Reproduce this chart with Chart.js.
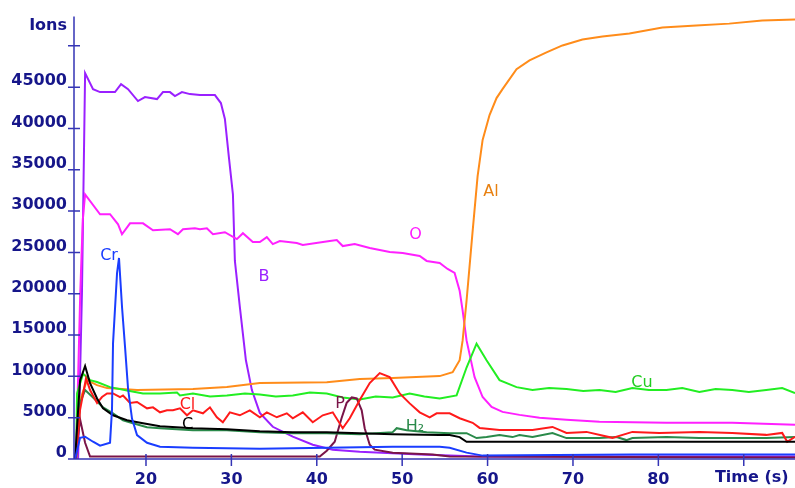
<!DOCTYPE html>
<html lang="en">
<head>
<meta charset="UTF-8">
<title>Ions - depth profile</title>
<script src="https://cdn.jsdelivr.net/npm/chart.js"></script>
<style>
    html, body { margin: 0; padding: 0; background: #fff; }
    #wrap { width: 795px; height: 488px; }
</style>
</head>
<body>
<div id="wrap"><canvas id="ionsChart"></canvas></div>
<script>
// each series: [time (s), ions]
const B = [[12.05,0],[12.5,20000],[12.87,46700],[13.8,44760],[14.62,44400],[16.37,44400],[17.08,45360],[17.9,44760],[19.06,43320],[19.88,43800],[21.29,43560],[21.99,44400],[22.81,44400],[23.39,43920],[24.21,44400],[25.15,44160],[26.32,44040],[28.07,44040],[28.77,43080],[29.24,41150],[29.7,36600],[30.18,32020],[30.41,23970],[31.0,18320],[31.7,11950],[32.4,8340],[33.33,5580],[34.85,3900],[37.19,2700],[39.53,1730],[41.87,1130],[45.03,890],[52.05,530],[59.1,290],[96,290]];
const O = [[11.81,0],[12.3,20000],[12.6,29000],[12.87,32020],[14.62,29620],[15.79,29620],[16.73,28400],[17.19,27200],[18.13,28520],[19.65,28520],[20.82,27680],[22.81,27810],[23.74,27210],[24.33,27810],[25.73,27930],[26.32,27810],[27.13,27930],[27.84,27210],[29.24,27450],[30.64,26610],[31.35,27330],[32.51,26250],[33.33,26250],[34.15,26850],[34.85,26010],[35.67,26370],[37.66,26130],[38.36,25890],[41.52,26370],[42.34,26490],[43.04,25770],[44.44,26010],[46.2,25530],[48.54,25050],[50.06,24930],[52.05,24570],[52.87,23970],[54.39,23730],[55.32,23000],[56.14,22520],[56.73,20360],[57.08,17960],[57.54,14350],[58.48,9900],[59.42,7500],[60.47,6300],[61.75,5700],[63.74,5340],[66.08,4980],[69.24,4740],[73.1,4500],[80.94,4380],[88.65,4380],[96,4130]];
const Cr = [[11.7,0],[12.28,2570],[12.87,2690],[13.8,2090],[14.62,1610],[15.79,1970],[16.02,6000],[16.14,14000],[16.61,22500],[16.84,24330],[17.2,18300],[17.55,13500],[17.9,8500],[18.36,4900],[18.95,2900],[20.12,1970],[21.64,1490],[25.5,1370],[33.33,1250],[41.17,1370],[48.89,1490],[54.39,1490],[55.56,1370],[57.54,770],[59.42,410],[76.96,530],[96,530]];
const Al = [[11.8,0],[12.28,7150],[13.1,9550],[14.27,8940],[15.44,8580],[18.95,8340],[25.5,8460],[29.47,8700],[33.33,9190],[41.17,9300],[45.03,9670],[48.89,9790],[54.39,10030],[55.91,10510],[56.73,11950],[57.08,14350],[57.54,19160],[58.25,27570],[58.83,34200],[59.42,38620],[60.23,41630],[61.05,43680],[61.75,44760],[63.39,47170],[64.91,48250],[66.9,49210],[68.77,50050],[71.11,50770],[73.45,51130],[76.61,51490],[80.47,52210],[84.44,52450],[88.3,52690],[92.16,53060],[96,53180]];
const Cu = [[11.81,0],[11.93,7930],[12.63,10320],[13.45,9550],[14.27,9310],[15.79,8700],[17.78,8290],[19.65,7930],[21.64,7930],[23.63,8050],[23.98,7690],[25.5,7930],[27.5,7570],[29.47,7690],[31.58,7930],[33.33,7810],[35.2,7570],[37.19,7690],[39.18,8050],[41.17,7930],[43.04,7450],[45.03,7210],[46.9,7570],[48.89,7450],[50.88,7930],[52.6,7570],[54.39,7330],[56.37,7690],[57.54,11070],[58.71,13960],[59.88,11950],[61.4,9550],[63.39,8700],[65.26,8340],[67.2,8580],[69.24,8460],[71.2,8220],[73.1,8340],[75.0,8100],[76.96,8580],[78.9,8340],[80.94,8340],[82.8,8580],[84.8,8100],[86.7,8460],[88.65,8340],[90.6,8100],[92.63,8340],[94.5,8580],[96,7970]];
const Cl = [[11.81,0],[12.28,5940],[12.98,9770],[13.45,8340],[14.27,6780],[14.85,7500],[15.44,7930],[16.14,7930],[16.96,7500],[17.31,7690],[18.13,6780],[18.95,6900],[20.12,6130],[20.82,6250],[21.64,5650],[22.46,5890],[23.16,5890],[23.98,6130],[24.8,5290],[25.5,5890],[26.67,5530],[27.49,6250],[28.3,5050],[29.0,4440],[29.82,5650],[30.99,5290],[32.16,5890],[33.33,5050],[34.15,5650],[35.32,5050],[36.49,5530],[37.19,4930],[38.36,5650],[39.53,4440],[40.7,5290],[41.87,5650],[43.04,3720],[43.86,4930],[45.03,7140],[46.2,9190],[47.37,10390],[48.54,9910],[49.71,7930],[50.88,6730],[52.05,5650],[53.22,5050],[54.04,5530],[55.56,5530],[56.73,4930],[58.25,4380],[59.07,3760],[61.4,3520],[65.26,3520],[67.6,3880],[69.24,3160],[71.58,3280],[74.62,2560],[76.96,3280],[80.12,3160],[84.8,3280],[88.65,3160],[92.63,2920],[94.5,3160],[95.09,2080],[96,2680]];
const C = [[11.7,0],[12.05,5900],[12.28,9500],[12.87,11250],[13.45,9190],[14.27,7330],[14.97,6130],[16.14,5290],[17.78,4690],[19.65,4330],[21.64,3970],[25.5,3730],[29.47,3610],[33.33,3370],[37.19,3250],[41.17,3250],[45.03,3130],[48.89,3010],[54.39,2890],[55.56,2890],[56.73,2650],[57.54,2090],[96,2090]];
const H2 = [[11.81,0],[12.28,6780],[12.87,8340],[13.8,7450],[14.97,6250],[16.14,5530],[17.31,4690],[18.48,4330],[20.12,3850],[21.64,3730],[25.5,3490],[29.47,3490],[33.33,3250],[37.19,3130],[41.17,3130],[45.03,3010],[48.89,3250],[49.36,3730],[50.53,3490],[52.87,3250],[55.56,3130],[57.54,3130],[58.71,2530],[59.88,2650],[61.4,2890],[62.92,2650],[63.74,2890],[65.26,2650],[67.6,3130],[69.24,2530],[73.1,2530],[75.1,2650],[76.26,2290],[76.96,2530],[80.94,2650],[84.8,2530],[92.63,2530],[96,2650]];
const P = [[11.7,0],[12.28,4810],[12.87,1970],[13.45,290],[37.19,290],[39.53,290],[40.35,290],[41.17,1000],[42.1,2090],[42.9,4930],[43.5,6800],[44.1,7450],[44.68,7330],[45.26,5890],[45.61,3730],[46.2,1730],[46.78,1130],[48.89,770],[53.57,530],[55.56,290],[96,170]];

const yTicks = [0, 5000, 10000, 15000, 20000, 25000, 30000, 35000, 40000, 45000, 50000];
const xTicks = [20, 30, 40, 50, 60, 70, 80, 90];

// name labels placed at data coordinates
const seriesNames = [
    { text: 'Cr', t: 15.67, v: 24570, color: '#1a3dff' },
    { text: 'B', t: 33.82, v: 22100, color: '#9a20ff' },
    { text: 'O', t: 51.56, v: 27150, color: '#ff1aff' },
    { text: 'Al', t: 60.4, v: 32380, color: '#e88010' },
    { text: 'Cu', t: 78.08, v: 9200, color: '#22cc22' },
    { text: 'Cl', t: 24.86, v: 6540, color: '#ff1a1a' },
    { text: 'C', t: 24.86, v: 4130, color: '#000000' },
    { text: 'P', t: 42.72, v: 6720, color: '#7a1448' },
    { text: 'H\u2082', t: 51.5, v: 3950, color: '#2a8a4a' }
];

const axisColor = '#3535b5';
const textColor = '#16168a';
const axisFont = { family: 'DejaVu Sans', size: 16, weight: 'bold' };

function serie(pts, color) {
    return {
        data: pts.map(p => ({ x: p[0], y: p[1] })),
        borderColor: color,
        borderWidth: 2,
        pointRadius: 0,
        tension: 0,
        fill: false
    };
}

// axes drawn by hand: ticks cross the axis line
const axesPlugin = {
    id: 'axesPlugin',
    afterDraw(chart) {
        const ctx = chart.ctx;
        const xs = chart.scales.x, ys = chart.scales.y;
        const a = chart.chartArea;
        ctx.save();
        ctx.strokeStyle = axisColor;
        ctx.lineWidth = 1.5;
        ctx.beginPath();
        ctx.moveTo(a.left, a.top);
        ctx.lineTo(a.left, a.bottom);
        ctx.lineTo(a.right, a.bottom);
        yTicks.forEach(v => {
            const y = ys.getPixelForValue(v);
            ctx.moveTo(a.left - 6, y);
            ctx.lineTo(a.left + 6, y);
        });
        xTicks.forEach(v => {
            const x = xs.getPixelForValue(v);
            ctx.moveTo(x, a.bottom - 5);
            ctx.lineTo(x, a.bottom + 7);
        });
        ctx.stroke();

        ctx.fillStyle = textColor;
        ctx.font = 'bold 16px "DejaVu Sans"';
        ctx.textAlign = 'right';
        ctx.textBaseline = 'middle';
        ctx.fillText('Ions', a.left - 7, 26);
        ctx.textAlign = 'center';
        ctx.fillText('Time (s)', xs.getPixelForValue(90) + 8, a.bottom + 19);

        ctx.font = '16px "DejaVu Sans"';
        seriesNames.forEach(s => {
            ctx.fillStyle = s.color;
            ctx.fillText(s.text, xs.getPixelForValue(s.t), ys.getPixelForValue(s.v));
        });
        ctx.restore();
    }
};

new Chart(document.getElementById('ionsChart'), {
    type: 'line',
    data: {
        datasets: [
            serie(Cr, '#1a3dff'),
            serie(C, '#000000'),
            serie(Cl, '#ff1a1a'),
            serie(H2, '#2a8a4a'),
            serie(P, '#7a1448'),
            serie(Cu, '#22ee22'),
            serie(Al, '#ff8c1a'),
            serie(O, '#ff20ff'),
            serie(B, '#9a20ff')
        ]
    },
    options: {
        responsive: true,
        maintainAspectRatio: false,
        animation: false,
        layout: { padding: { top: 14, right: 0, left: 0, bottom: 0 } },
        plugins: { legend: { display: false }, tooltip: { enabled: false } },
        scales: {
            x: {
                type: 'linear',
                min: 11.57,
                max: 96,
                afterBuildTicks: s => { s.ticks = xTicks.map(v => ({ value: v })); },
                afterFit: s => { s.height = 29; },
                grid: { display: false, drawTicks: false },
                border: { display: false },
                ticks: {
                    color: textColor,
                    font: axisFont,
                    padding: 11,
                    maxRotation: 0,
                    autoSkip: false,
                    callback: v => (v === 90 ? '' : String(v))
                }
            },
            y: {
                min: 0,
                max: 53540,
                afterBuildTicks: s => { s.ticks = yTicks.map(v => ({ value: v })); },
                afterFit: s => { s.width = 74; },
                grid: { display: false, drawTicks: false },
                border: { display: false },
                ticks: {
                    color: textColor,
                    font: axisFont,
                    padding: 7,
                    labelOffset: -6,
                    autoSkip: false,
                    callback: v => (v === 50000 ? '' : String(v))
                }
            }
        }
    },
    plugins: [axesPlugin]
});
</script>
</body>
</html>
